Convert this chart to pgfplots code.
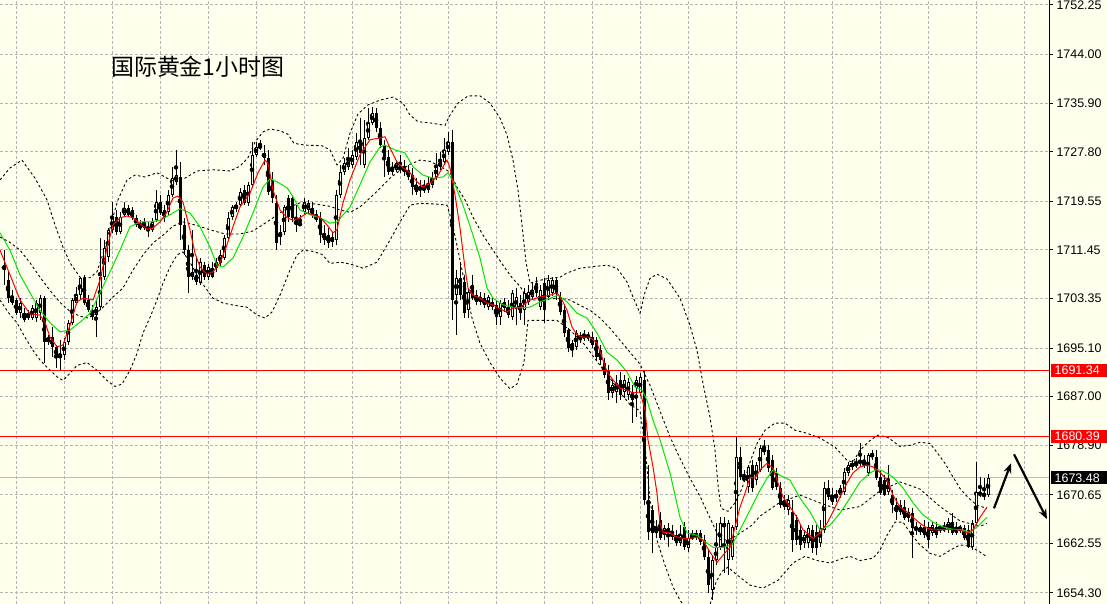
\documentclass[border=0pt]{standalone}
\usepackage{fontspec}
\setmainfont{Liberation Sans}
\newfontfamily\cjk{Noto Sans CJK SC}
\usepackage{pgfplots}
\pgfplotsset{compat=1.18}
\usepackage{pgfplotstable}
\usetikzlibrary{arrows.meta}

\definecolor{bg}{RGB}{255,255,238}
\definecolor{gridc}{RGB}{180,180,180}
\definecolor{maG}{RGB}{0,230,0}
\definecolor{curc}{RGB}{190,190,190}

% hourly candles, one row per bar (open high low close)
\pgfplotstableread{
o h l c
1708.1 1711.4 1705.6 1708.9
1706.4 1707.8 1702.6 1703.4
1703.6 1704.8 1702.3 1702.6
1703.1 1703.4 1700.6 1700.9
1700.9 1703.4 1700.1 1702.6
1700.9 1701.8 1699.4 1699.8
1700.8 1701.4 1699.8 1700.1
1700.1 1702.3 1699.8 1701.8
1700.1 1703.1 1699.4 1702.6
1700.9 1703.9 1699.8 1703.4
1703.4 1703.8 1692.6 1696.1
1696.1 1697.3 1695.6 1696.9
1696.9 1698.6 1693.6 1695.3
1695.3 1695.6 1691.8 1693.6
1693.9 1696.4 1691.4 1693.6
1693.9 1696.8 1693.1 1696.1
1696.1 1699.8 1695.6 1699.3
1699.3 1703.4 1698.9 1703.1
1702.6 1705.3 1702.3 1703.9
1703.9 1706.9 1703.1 1706.8
1706.8 1707.3 1702.3 1702.6
1703.1 1703.9 1701.1 1701.4
1701.4 1702.3 1699.8 1700.3
1700.6 1703.1 1696.9 1701.9
1701.9 1713.4 1701.4 1706.9
1706.9 1713.1 1706.4 1711.8
1710.3 1715.1 1709.4 1714.8
1714.8 1719.4 1714.3 1716.9
1716.9 1718.1 1713.9 1714.4
1714.4 1717.8 1714.1 1716.9
1717.3 1719.4 1716.9 1718.4
1718.4 1718.9 1716.9 1717.3
1718.1 1718.6 1716.4 1716.8
1716.8 1717.3 1715.3 1715.6
1715.6 1716.4 1714.8 1715.1
1715.1 1716.8 1714.8 1716.1
1715.3 1716.1 1713.6 1714.8
1714.8 1716.8 1714.4 1716.1
1716.4 1721.4 1716.1 1719.4
1719.4 1720.6 1717.3 1717.6
1718.1 1718.9 1716.1 1716.8
1717.8 1721.4 1717.3 1720.6
1720.6 1725.3 1720.3 1723.4
1722.8 1728.1 1722.3 1723.9
1723.6 1726.1 1713.1 1715.6
1715.6 1716.8 1710.6 1711.4
1711.4 1712.3 1704.3 1706.9
1707.8 1714.8 1706.4 1706.9
1707.3 1710.3 1705.6 1706.1
1705.9 1710.1 1705.6 1709.4
1708.9 1709.4 1706.4 1706.9
1706.9 1709.1 1706.4 1708.6
1708.4 1709.4 1706.8 1706.9
1708.4 1710.1 1707.8 1709.4
1709.3 1711.4 1708.8 1710.6
1710.1 1713.9 1709.8 1713.4
1713.4 1717.8 1713.1 1716.8
1716.9 1718.9 1716.4 1718.6
1718.4 1719.4 1717.8 1718.9
1718.9 1721.8 1718.6 1721.1
1721.4 1722.3 1718.9 1719.3
1719.3 1722.8 1718.8 1722.3
1722.3 1729.4 1721.8 1727.3
1727.3 1729.4 1726.9 1728.6
1728.4 1729.8 1728.1 1728.9
1727.6 1728.9 1725.6 1726.8
1726.8 1728.1 1720.6 1721.1
1723.1 1724.4 1719.3 1720.1
1719.3 1720.6 1711.4 1712.6
1713.6 1715.6 1712.3 1714.4
1714.4 1718.9 1713.9 1718.6
1720.1 1720.6 1716.1 1716.9
1720.1 1720.6 1716.1 1716.8
1716.4 1718.9 1714.4 1715.6
1715.9 1717.3 1715.4 1715.6
1717.8 1720.1 1717.4 1719.4
1718.1 1719.8 1717.4 1719.3
1718.4 1719.4 1716.8 1717.3
1717.3 1718.1 1716.1 1716.4
1716.8 1717.8 1712.6 1713.9
1714.3 1715.6 1712.3 1713.1
1713.9 1715.1 1711.8 1712.6
1712.8 1714.4 1711.9 1713.6
1713.1 1721.4 1712.3 1720.6
1720.6 1725.6 1720.1 1724.4
1724.4 1726.8 1723.9 1725.9
1725.3 1728.4 1724.8 1726.4
1725.6 1728.1 1725.1 1727.3
1726.9 1730.9 1726.4 1729.4
1729.3 1733.4 1725.6 1727.6
1725.6 1733.1 1725.1 1730.1
1730.1 1735.1 1729.8 1732.6
1732.6 1735.3 1732.3 1734.3
1734.3 1735.1 1731.1 1731.8
1731.8 1732.8 1728.4 1728.9
1728.9 1729.8 1723.6 1726.9
1726.9 1728.1 1723.9 1724.4
1724.4 1726.1 1723.9 1725.3
1724.8 1726.4 1724.4 1725.9
1724.8 1727.3 1724.3 1725.3
1725.3 1726.4 1723.8 1724.4
1724.8 1725.6 1723.1 1723.6
1723.9 1725.1 1720.6 1721.9
1722.3 1723.4 1720.6 1721.1
1721.9 1723.1 1720.3 1721.4
1721.4 1723.1 1720.9 1721.9
1721.4 1723.6 1720.9 1722.6
1722.3 1724.4 1721.8 1723.4
1723.6 1727.6 1723.1 1725.3
1725.3 1727.8 1724.8 1726.1
1726.1 1730.1 1725.6 1728.1
1727.8 1731.1 1727.3 1729.4
1729.4 1731.4 1699.8 1703.1
1703.9 1708.1 1697.3 1706.8
1706.8 1709.4 1703.1 1703.9
1706.1 1707.3 1700.1 1700.9
1701.4 1705.1 1700.1 1704.4
1705.6 1707.3 1703.1 1703.4
1703.9 1704.8 1702.3 1702.8
1702.8 1704.4 1702.3 1703.6
1703.4 1704.3 1701.8 1702.3
1701.9 1703.9 1701.4 1703.6
1702.8 1703.4 1701.4 1701.9
1702.3 1703.1 1698.9 1700.3
1700.3 1703.1 1698.9 1702.6
1701.8 1703.4 1701.1 1702.8
1701.9 1703.1 1700.1 1700.6
1700.3 1704.8 1699.8 1704.3
1701.8 1705.1 1698.9 1703.6
1702.6 1703.9 1699.8 1700.9
1701.4 1705.1 1698.9 1704.3
1702.8 1705.6 1702.3 1704.4
1703.6 1705.9 1703.1 1704.8
1705.9 1706.9 1703.6 1704.3
1701.9 1705.6 1701.4 1704.8
1705.9 1706.8 1699.3 1701.4
1703.6 1707.3 1703.1 1706.4
1704.3 1706.9 1703.8 1706.4
1706.4 1706.9 1703.1 1704.3
1703.6 1704.4 1700.6 1701.1
1701.4 1702.3 1696.9 1697.6
1698.1 1698.4 1694.4 1695.1
1695.9 1696.4 1693.6 1695.1
1695.3 1698.1 1694.8 1697.6
1696.4 1697.8 1695.9 1697.3
1696.8 1698.1 1696.3 1697.3
1696.8 1697.8 1696.3 1697.3
1696.9 1697.8 1695.1 1695.6
1696.4 1696.9 1693.1 1693.6
1694.8 1695.6 1692.3 1693.1
1692.6 1693.4 1690.1 1690.6
1691.4 1692.3 1686.4 1687.6
1687.6 1689.8 1686.8 1688.9
1687.8 1690.6 1685.9 1689.3
1689.8 1691.1 1686.4 1687.3
1687.8 1690.6 1686.8 1689.8
1687.3 1690.1 1686.4 1689.4
1687.8 1688.9 1682.6 1686.4
1688.4 1690.4 1683.6 1689.8
1687.6 1690.9 1687.1 1690.3
1689.8 1691.4 1668.9 1669.8
1669.8 1675.6 1663.1 1664.4
1668.1 1668.9 1660.9 1664.3
1664.3 1666.4 1663.8 1665.1
1666.4 1667.8 1663.1 1663.4
1663.9 1665.6 1663.1 1665.1
1665.1 1665.9 1661.9 1664.3
1663.6 1665.6 1663.1 1664.4
1663.9 1664.8 1662.1 1662.6
1662.6 1665.6 1662.1 1663.9
1665.3 1666.1 1661.4 1661.9
1661.8 1664.8 1661.1 1663.4
1663.9 1664.8 1663.1 1663.4
1663.6 1664.8 1663.1 1664.3
1664.3 1664.8 1662.3 1662.8
1663.1 1663.9 1659.8 1660.3
1660.3 1661.4 1654.3 1655.6
1654.8 1660.6 1653.1 1659.8
1659.8 1665.9 1658.9 1661.9
1661.9 1666.9 1661.4 1665.9
1665.9 1666.9 1657.6 1665.3
1659.8 1666.4 1657.3 1665.9
1660.3 1665.6 1659.8 1665.3
1665.3 1680.3 1664.8 1676.9
1676.9 1678.6 1673.1 1673.6
1673.6 1674.8 1672.8 1673.1
1671.9 1675.6 1670.9 1675.3
1675.6 1676.4 1671.1 1671.8
1673.1 1676.1 1672.3 1675.6
1674.8 1678.9 1674.4 1678.4
1678.4 1679.8 1677.3 1677.8
1678.1 1678.9 1674.4 1675.1
1676.4 1677.3 1671.4 1671.8
1674.3 1675.1 1671.4 1671.9
1671.8 1672.8 1668.4 1668.9
1669.8 1670.6 1668.1 1668.6
1668.1 1670.6 1667.3 1669.8
1667.8 1669.8 1661.1 1663.1
1666.4 1667.3 1662.3 1663.1
1664.8 1665.6 1661.4 1662.3
1662.6 1664.8 1661.8 1663.9
1662.6 1665.6 1661.8 1665.1
1664.8 1665.6 1660.9 1661.8
1664.4 1665.6 1660.6 1661.8
1662.6 1666.4 1661.9 1665.1
1664.8 1672.8 1664.3 1671.8
1671.8 1673.1 1669.8 1670.3
1670.6 1671.8 1668.9 1669.4
1670.6 1671.4 1669.4 1670.3
1670.6 1672.3 1670.1 1671.8
1671.1 1675.1 1670.6 1674.4
1674.3 1676.1 1673.8 1675.6
1675.3 1676.4 1674.8 1675.9
1675.6 1676.8 1675.1 1675.9
1675.9 1679.3 1675.4 1676.4
1676.1 1677.3 1675.1 1675.6
1674.3 1677.6 1673.8 1677.3
1676.9 1678.1 1676.4 1677.6
1676.9 1678.1 1673.1 1673.4
1673.6 1674.8 1670.6 1670.9
1673.1 1673.9 1670.4 1670.6
1671.1 1675.6 1670.6 1672.8
1670.6 1671.4 1667.6 1668.9
1668.9 1670.1 1666.4 1667.8
1668.9 1669.8 1667.3 1667.8
1668.6 1669.8 1666.4 1666.8
1666.8 1668.4 1666.1 1667.8
1667.6 1668.4 1660.1 1665.1
1665.3 1666.1 1663.9 1664.8
1664.4 1665.6 1663.9 1665.3
1665.3 1666.4 1663.4 1663.9
1665.3 1666.1 1661.8 1663.1
1664.3 1666.1 1663.8 1665.6
1665.3 1666.1 1663.4 1663.9
1664.8 1665.6 1664.3 1665.4
1665.3 1666.1 1664.4 1664.8
1664.8 1666.8 1664.3 1666.1
1666.1 1667.6 1663.9 1664.3
1665.3 1666.1 1663.9 1664.3
1664.8 1665.6 1664.3 1665.3
1665.1 1665.6 1663.1 1663.4
1664.8 1665.6 1661.8 1661.9
1661.9 1666.4 1661.4 1665.9
1665.9 1676.1 1665.6 1671.1
1671.1 1673.6 1670.3 1670.6
1670.9 1673.4 1669.8 1670.4
1670.6 1674.1 1670.3 1673.5
}\candles

\begin{document}
\begin{tikzpicture}[x=1bp,y=1bp]
\useasboundingbox (0,0) rectangle (1107,604);
\fill[bg] (0,0) rectangle (1107,604);
\begin{axis}[
  at={(0,0)}, anchor=south west,
  scale only axis, width=1049bp, height=604bp,
  xmin=0, xmax=1049, ymin=1652.46, ymax=1753.08,
  clip mode=individual,
  axis x line*=bottom, axis y line*=right,
  x axis line style={draw=none},
  y axis line style={black, line width=1bp},
  xtick={16,64,...,1024}, xticklabels={},
  x tick style={draw=none},
  ytick={1654.30,1662.55,1670.65,1678.90,1687.00,1695.10,1703.35,1711.45,1719.55,1727.80,1735.90,1744.00,1752.25},
  yticklabels={1654.30,1662.55,1670.65,1678.90,1687.00,1695.10,1703.35,1711.45,1719.55,1727.80,1735.90,1744.00,1752.25},
  y tick style={black, line width=1bp},
  tick align=outside, major tick length=4bp,
  grid=major,
  major grid style={gridc, line width=1bp, dash pattern=on 3bp off 2bp},
  yticklabel style={font=\fontsize{12.5}{14}\selectfont},
]
% current price line
\addplot[curc, line width=1bp] coordinates {(0,1673.48) (1049,1673.48)};

% wicks
\addplot[only marks, mark=none, forget plot,
  error bars/.cd, y dir=both, y explicit, error mark=none,
  error bar style={black, line width=1bp}]
  table[x expr=4*\coordindex+4, y expr=(\thisrow{h}+\thisrow{l})/2,
        y error expr=(\thisrow{h}-\thisrow{l})/2] {\candles};
% bodies
\addplot[only marks, mark=none, forget plot,
  error bars/.cd, y dir=both, y explicit, error mark=none,
  error bar style={black, line width=3bp}]
  table[x expr=4*\coordindex+4, y expr=(\thisrow{o}+\thisrow{c})/2,
        y error expr={max(abs(\thisrow{c}-\thisrow{o})/2,0.09)}] {\candles};
% hollow inside of rising bars
\addplot[only marks, mark=none, forget plot,
  error bars/.cd, y dir=both, y explicit, error mark=none,
  error bar style={bg, line width=1bp}]
  table[x expr=4*\coordindex+4, y expr=(\thisrow{o}+\thisrow{c})/2,
        y error expr={\thisrow{c}>\thisrow{o} ? max((\thisrow{c}-\thisrow{o})/2-0.17,0) : 0}] {\candles};

% bollinger bands
\addplot[black, line width=0.9bp, dash pattern=on 2.5bp off 2.5bp] coordinates {
(0,1723.1)(10,1725.1)(22,1726.4)(35,1723.4)(47,1719.8)(55,1715.6)(63,1711.9)(70,1709.3)(80,1706.9)(90,1706.8)(97,1707.8)(105,1711.8)(112,1716.4)(118,1719.8)(127,1723.1)(135,1723.9)(145,1723.6)(157,1724.3)(167,1723.4)(175,1722.8)(185,1723.4)(197,1724.6)(213,1724.8)(230,1724.6)(240,1725.4)(248,1726.8)(255,1729.4)(263,1731.1)(270,1731.6)(280,1731.3)(288,1730.7)(294,1729.2)(305,1728.9)(322,1728.8)(330,1728.1)(337,1725.6)(343,1726.7)(350,1730.9)(358,1734.1)(368,1735.6)(380,1736.4)(393,1736.9)(403,1735.9)(410,1733.9)(418,1732.8)(430,1732.6)(445,1732.2)(450,1733.9)(458,1735.9)(468,1737.1)(480,1737.1)(490,1735.9)(500,1733.4)(507,1730.6)(513,1726.4)(518,1721.4)(522,1715.6)(526,1709.4)(530,1705.9)(545,1706.6)(560,1706.9)(567,1707.6)(580,1708.4)(595,1708.7)(607,1708.9)(617,1708.4)(627,1706.1)(633,1703.6)(640,1700.9)(645,1704.4)(650,1706.7)(657,1707.4)(667,1706.6)(680,1703.4)(690,1698.9)(697,1694.7)(703,1689.2)(710,1683.6)(715,1678.1)(718,1672.3)(721,1668.4)(728,1667.9)(735,1669.3)(742,1671.7)(750,1676.1)(757,1679.2)(765,1681.4)(775,1682.6)(785,1682.6)(795,1681.4)(807,1680.9)(820,1680.1)(835,1678.6)(847,1676.4)(853,1676.1)(860,1678.1)(870,1679.7)(878,1680.6)(888,1680.2)(900,1678.7)(910,1678.9)(920,1679.4)(930,1679.2)(937,1677.7)(945,1675.9)(952,1673.9)(960,1671.7)(968,1670.2)(977,1668.9)(987,1668.4)};
\addplot[black, line width=0.9bp, dash pattern=on 2.5bp off 2.5bp] coordinates {
(0,1713.6)(10,1712.7)(20,1711.4)(30,1709.3)(40,1706.9)(50,1704.7)(60,1702.7)(70,1701.2)(80,1700.4)(88,1700.1)(95,1700.7)(103,1701.9)(113,1703.6)(123,1705.1)(133,1708.1)(143,1710.6)(153,1712.6)(163,1713.9)(173,1715.4)(183,1716.1)(195,1715.6)(210,1714.8)(225,1714.1)(240,1714.1)(253,1714.6)(267,1716.1)(280,1717.6)(290,1718.6)(300,1719.3)(315,1719.1)(330,1718.7)(340,1718.1)(350,1717.7)(360,1718.6)(370,1720.1)(380,1721.7)(390,1723.4)(400,1724.7)(410,1725.7)(420,1726.4)(430,1726.2)(440,1725.4)(450,1724.4)(457,1721.9)(465,1719.8)(473,1716.9)(483,1713.9)(493,1711.4)(503,1708.9)(513,1706.6)(520,1705.4)(528,1703.1)(540,1703.1)(550,1703.3)(560,1703.4)(570,1703.1)(580,1702.2)(590,1701.4)(600,1700.1)(610,1698.4)(620,1696.4)(630,1694.4)(640,1692.4)(650,1688.9)(660,1684.6)(670,1680.3)(680,1676.7)(690,1673.4)(700,1670.4)(710,1666.8)(720,1663.2)(728,1663.1)(736,1663.8)(744,1664.7)(752,1665.6)(760,1667.1)(780,1669.4)(800,1670.6)(820,1669.3)(840,1668.1)(860,1668.7)(880,1671.3)(900,1672.8)(920,1671.6)(940,1668.7)(960,1666.3)(980,1665.4)(987,1665.9)};
\addplot[black, line width=0.9bp, dash pattern=on 2.5bp off 2.5bp] coordinates {
(0,1703.1)(8,1701.1)(17,1699.3)(25,1696.9)(33,1694.7)(40,1693.1)(47,1691.9)(57,1690.3)(63,1689.7)(70,1690.9)(77,1692.2)(87,1692.7)(97,1691.4)(107,1689.7)(115,1688.7)(122,1689.1)(130,1691.4)(137,1694.2)(143,1697.6)(150,1700.2)(157,1703.1)(163,1705.9)(170,1708.6)(177,1710.6)(183,1711.1)(190,1709.4)(200,1706.4)(213,1703.4)(223,1702.6)(235,1702.2)(247,1701.9)(257,1700.6)(265,1700.1)(272,1701.1)(280,1703.9)(290,1708.1)(297,1710.6)(303,1711.4)(313,1711.2)(322,1710.7)(330,1709.2)(340,1709.4)(350,1709.1)(363,1708.4)(377,1709.4)(390,1713.1)(400,1716.1)(410,1718.9)(420,1719.2)(435,1719.1)(447,1718.9)(452,1716.1)(458,1711.4)(465,1705.6)(472,1700.1)(480,1695.9)(490,1692.7)(500,1690.1)(510,1688.3)(517,1689.1)(521,1691.1)(524,1692.7)(528,1699.7)(533,1699.7)(545,1699.7)(557,1699.7)(570,1698.1)(585,1695.6)(600,1692.2)(610,1690.1)(620,1687.7)(630,1685.7)(640,1684.6)(645,1678.9)(650,1669.7)(657,1663.1)(665,1658.9)(673,1655.3)(680,1653.1)(690,1650.6)(700,1648.9)(710,1652.3)(716,1656.1)(722,1657.9)(728,1658.6)(737,1657.3)(750,1655.6)(763,1655.1)(778,1656.4)(793,1659.3)(805,1660.4)(817,1659.7)(830,1659.3)(843,1660.1)(850,1660.4)(860,1659.7)(873,1660.1)(880,1661.4)(887,1663.9)(895,1666.1)(903,1666.1)(912,1663.9)(920,1662.3)(930,1660.9)(940,1660.4)(950,1661.4)(960,1662.3)(970,1662.1)(980,1661.1)(987,1660.3)};

% slow moving average
\addplot[maG, line width=1bp] coordinates {
(0,1714.3)(10,1711.4)(20,1707.3)(30,1704.3)(40,1701.4)(50,1699.3)(60,1697.8)(70,1698.1)(80,1699.4)(90,1700.9)(100,1704.3)(110,1707.8)(120,1711.4)(130,1715.3)(140,1716.1)(150,1716.1)(160,1716.4)(170,1717.3)(180,1718.3)(190,1717.6)(200,1715.3)(210,1711.9)(217,1708.9)(223,1708.6)(233,1710.1)(243,1713.6)(253,1717.6)(263,1721.9)(270,1723.3)(277,1722.8)(287,1721.8)(293,1720.3)(300,1718.1)(310,1717.3)(320,1716.8)(330,1715.9)(337,1716.1)(350,1718.6)(360,1722.3)(370,1726.1)(380,1728.6)(385,1728.9)(395,1728.1)(405,1727.6)(413,1725.3)(423,1723.9)(433,1723.4)(443,1723.6)(448,1724.3)(455,1722.3)(463,1718.9)(473,1713.9)(480,1710.1)(487,1705.1)(493,1703.4)(503,1702.3)(513,1701.9)(520,1701.8)(530,1701.9)(540,1702.8)(550,1703.4)(558,1703.9)(567,1702.8)(577,1700.9)(587,1700.1)(597,1697.6)(607,1694.4)(617,1693.1)(627,1691.1)(635,1688.6)(642,1688.1)(647,1686.4)(653,1683.1)(660,1679.8)(670,1674.3)(680,1666.9)(687,1664.3)(697,1663.9)(703,1663.1)(713,1661.9)(723,1661.9)(732,1662.3)(740,1664.8)(750,1668.1)(760,1671.4)(767,1673.4)(773,1674.8)(780,1673.9)(790,1673.1)(800,1670.1)(810,1667.8)(820,1664.8)(830,1665.6)(840,1667.6)(850,1670.1)(860,1672.8)(870,1674.3)(877,1674.9)(883,1674.6)(893,1673.6)(903,1671.8)(913,1669.3)(923,1667.3)(933,1666.1)(943,1665.3)(953,1664.9)(963,1664.8)(970,1664.4)(977,1665.3)(987,1666.9)};
% fast moving average
\addplot[red, line width=1bp] coordinates {
(0,1711.4)(10,1707.3)(20,1703.1)(30,1700.8)(40,1700.6)(45,1699.4)(50,1696.9)(57,1695.3)(63,1695.6)(70,1698.9)(77,1702.8)(83,1703.4)(93,1703.1)(100,1706.4)(107,1711.8)(113,1715.6)(120,1716.8)(127,1717.1)(133,1716.8)(140,1715.8)(147,1714.9)(153,1715.1)(160,1716.1)(167,1717.8)(173,1720.1)(178,1720.4)(183,1719.4)(190,1714.8)(195,1710.9)(200,1708.6)(207,1707.4)(213,1707.8)(220,1709.3)(227,1712.3)(233,1715.3)(240,1718.6)(250,1720.9)(258,1724.3)(265,1726.4)(268,1725.9)(273,1721.4)(280,1718.1)(287,1716.8)(293,1716.4)(300,1716.8)(307,1717.6)(313,1717.3)(320,1716.9)(327,1715.6)(333,1714.3)(337,1714.8)(343,1719.3)(350,1723.1)(360,1727.3)(370,1729.8)(380,1730.1)(385,1730.3)(390,1728.4)(397,1726.1)(403,1725.1)(410,1724.3)(417,1722.8)(423,1721.9)(430,1722.6)(437,1723.6)(443,1725.3)(447,1726.4)(450,1725.1)(455,1720.6)(460,1715.1)(465,1708.4)(468,1705.1)(473,1703.9)(480,1703.4)(487,1702.6)(493,1702.3)(500,1701.6)(507,1701.1)(513,1701.8)(520,1701.8)(530,1703.1)(540,1703.6)(550,1703.9)(557,1704.3)(562,1703.1)(567,1701.4)(572,1698.6)(577,1697.3)(583,1696.9)(590,1696.9)(597,1695.9)(602,1693.6)(607,1691.1)(613,1689.8)(620,1688.4)(627,1688.1)(633,1687.6)(640,1687.8)(645,1684.8)(648,1679.8)(653,1675.3)(657,1670.9)(660,1665.9)(663,1664.4)(670,1664.3)(677,1663.6)(683,1663.4)(690,1663.4)(697,1663.6)(703,1663.1)(710,1661.1)(717,1659.4)(723,1660.6)(730,1661.9)(735,1665.3)(740,1668.6)(745,1670.9)(750,1673.6)(755,1673.4)(760,1674.8)(767,1675.9)(773,1675.1)(778,1672.6)(783,1670.3)(790,1668.6)(797,1666.9)(803,1664.8)(810,1663.9)(813,1663.4)(820,1664.3)(827,1665.9)(833,1667.8)(840,1670.3)(847,1672.6)(853,1674.3)(860,1675.3)(867,1675.6)(873,1675.3)(880,1674.4)(887,1673.1)(893,1670.6)(900,1668.6)(907,1667.8)(913,1666.9)(920,1665.9)(927,1665.1)(933,1664.8)(947,1664.9)(960,1664.8)(967,1664.3)(973,1664.8)(980,1666.9)(987,1668.6)};

% horizontal levels
\addplot[red, line width=1.2bp] coordinates {(0,1691.34) (1049,1691.34)};
\addplot[red, line width=1.2bp] coordinates {(0,1680.39) (1049,1680.39)};

% hand-drawn arrows
\draw[black, line width=2.2bp, -{Stealth[length=10bp, width=8bp]}]
  (axis cs:994,1668.4) -- (axis cs:1011,1675.9);
\draw[black, line width=2.2bp, -{Stealth[length=10bp, width=8bp]}]
  (axis cs:1014,1677.4) -- (axis cs:1047,1666.6);

% price tags on the scale
\node[anchor=west, fill=red, text=white, inner xsep=4bp, inner ysep=0pt,
  minimum height=13bp, text width=48bp, font=\fontsize{12.5}{14}\selectfont]
  at (axis cs:1050.5,1691.34) {1691.34};
\node[anchor=west, fill=red, text=white, inner xsep=4bp, inner ysep=0pt,
  minimum height=13bp, text width=48bp, font=\fontsize{12.5}{14}\selectfont]
  at (axis cs:1050.5,1680.39) {1680.39};
\node[anchor=west, fill=black, text=white, inner xsep=4bp, inner ysep=0pt,
  minimum height=13bp, text width=48bp, font=\fontsize{12.5}{14}\selectfont]
  at (axis cs:1050.5,1673.48) {1673.48};
\end{axis}
\node[anchor=base west, inner sep=0pt] at (111,528.6)
  {\cjk\fontsize{23}{28}\selectfont 国际黄金1小时图};
\end{tikzpicture}
\end{document}
